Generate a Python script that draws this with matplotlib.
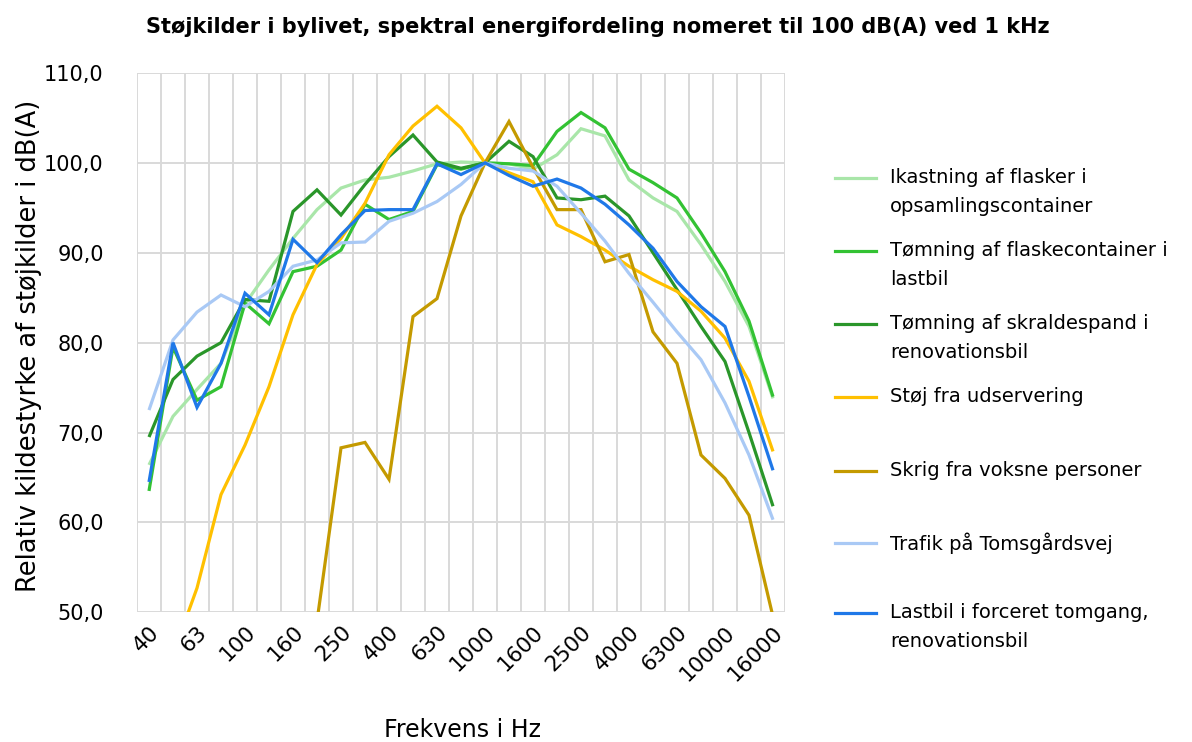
import numpy as np
import matplotlib
matplotlib.use("Agg")
import matplotlib.pyplot as plt
from matplotlib.lines import Line2D
from matplotlib.ticker import FuncFormatter

plt.rcParams['font.family'] = ['DejaVu Sans']

freqs = ["40", "50", "63", "80", "100", "125", "160", "200", "250", "315", "400", "500",
         "630", "800", "1000", "1250", "1600", "2000", "2500", "3150", "4000", "5000",
         "6300", "8000", "10000", "12500", "16000"]

nan = np.nan
ikastning = [66.4, 71.8, 74.8, 77.7, 84.3, 88.1, 91.6, 94.8, 97.2, 98.1, 98.4, 99.1, 99.9, 100.1,
             100.0, 99.9, 99.3, 100.9, 103.8, 103.0, 98.1, 96.1, 94.6, 90.9, 86.8, 81.8, 73.8]
flaskecontainer = [63.5, 79.5, 73.6, 75.1, 84.4, 82.1, 87.9, 88.5, 90.3, 95.4, 93.7, 94.6, 99.8, 99.3,
                   100.0, 99.9, 99.7, 103.5, 105.6, 103.9, 99.3, 97.8, 96.1, 92.2, 87.9, 82.4, 74.0]
skraldespand = [69.5, 75.9, 78.5, 80.0, 84.8, 84.6, 94.6, 97.0, 94.2, 97.6, 100.7, 103.1, 100.1, 99.4,
                100.0, 102.4, 100.7, 96.1, 95.9, 96.3, 94.1, 90.0, 85.9, 81.8, 77.9, 70.0, 61.8]
udservering = [nan, 45.3, 52.7, 63.1, 68.6, 75.1, 83.1, 88.7, 91.6, 95.5, 100.9, 104.1, 106.3, 103.9,
               100.0, 98.9, 97.9, 93.1, 91.8, 90.3, 88.5, 87.0, 85.7, 83.5, 80.5, 75.7, 67.9]
skrig = [nan, nan, nan, nan, nan, nan, nan, 49.0, 68.3, 68.9, 64.8, 82.9, 84.9, 94.1,
         100.0, 104.6, 99.5, 94.8, 94.8, 89.0, 89.8, 81.2, 77.7, 67.5, 64.9, 60.8, 49.5]
trafik = [72.5, 80.3, 83.4, 85.3, 84.0, 85.7, 88.5, 89.2, 91.1, 91.2, 93.5, 94.4, 95.7, 97.6,
          100.0, 99.4, 99.1, 97.4, 94.4, 91.3, 87.7, 84.5, 81.2, 78.1, 73.3, 67.5, 60.3]
lastbil = [64.5, 80.0, 72.8, 77.7, 85.5, 83.1, 91.5, 88.9, 92.0, 94.7, 94.8, 94.8, 99.9, 98.7,
           100.0, 98.6, 97.4, 98.2, 97.2, 95.4, 93.1, 90.5, 86.8, 84.0, 81.8, 74.0, 65.8]

labels = ["Ikastning af flasker i\nopsamlingscontainer",
          "Tømning af flaskecontainer i\nlastbil",
          "Tømning af skraldespand i\nrenovationsbil",
          "Støj fra udservering",
          "Skrig fra voksne personer",
          "Trafik på Tomsgårdsvej",
          "Lastbil i forceret tomgang,\nrenovationsbil"]
series = [ikastning, flaskecontainer, skraldespand, udservering, skrig, trafik, lastbil]
colors = ["#a9e6a9", "#33c233", "#2a962a", "#ffc000", "#c49a00", "#a9c9f5", "#1f78e8"]

W, H = 1192, 742
fig = plt.figure(figsize=(W / 100, H / 100), dpi=100)
L, R, T, B = 137, 785, 73, 612.3
ax = fig.add_axes([L / W, 1 - B / H, (R - L) / W, (B - T) / H])

x = np.arange(len(freqs))
for s, c in zip(series, colors):
    ax.plot(x, s, color=c, lw=2.3, solid_joinstyle='miter', solid_capstyle='butt', clip_on=True)

ax.set_xlim(-0.5, len(freqs) - 0.5)
ax.set_ylim(50, 110)
ax.set_yticks(np.arange(50, 111, 10))
ax.yaxis.set_major_formatter(FuncFormatter(lambda v, p: f"{v:.1f}".replace(".", ",")))
ax.set_xticks(x[::2])
ax.set_xticklabels(freqs[::2], rotation=45, ha='right', va='top', rotation_mode='anchor')
ax.set_xticks(np.arange(-0.5, len(freqs), 1.0), minor=True)
ax.grid(True, which='minor', axis='x', color='#d9d9d9', lw=1.4)
ax.grid(True, which='major', axis='y', color='#d9d9d9', lw=1.4)
ax.set_axisbelow(True)
for sp in ax.spines.values():
    sp.set_visible(False)
ax.tick_params(axis='both', which='both', length=0, labelsize=15, colors='black')
ax.tick_params(axis='y', pad=24)
ax.tick_params(axis='x', which='major', labelsize=15.5, pad=7)

fig.text(462 / W, 1 - 730 / H, "Frekvens i Hz", ha='center', va='center', fontsize=17)
fig.text(29 / W, 1 - 346 / H, "Relativ kildestyrke af støjkilder i dB(A)", ha='center', va='center',
         rotation=90, fontsize=18.5)
fig.text(598 / W, 1 - 27 / H, "Støjkilder i bylivet, spektral energifordeling nomeret til 100 dB(A) ved 1 kHz",
         ha='center', va='center', fontsize=15, fontweight='bold')

# legend (manual)
ys = [179, 252, 325, 398, 472, 544, 614]
for yy, lab, c in zip(ys, labels, colors):
    fy = 1 - yy / H
    fig.add_artist(Line2D([835 / W, 876 / W], [(1 - (yy - 1) / H)] * 2, color=c, lw=2.3,
                          transform=fig.transFigure))
    fig.text(890 / W, fy + 11 / H, lab, ha='left', va='top', fontsize=14, linespacing=1.68,
             transform=fig.transFigure)

fig.savefig("out.png", dpi=100)
